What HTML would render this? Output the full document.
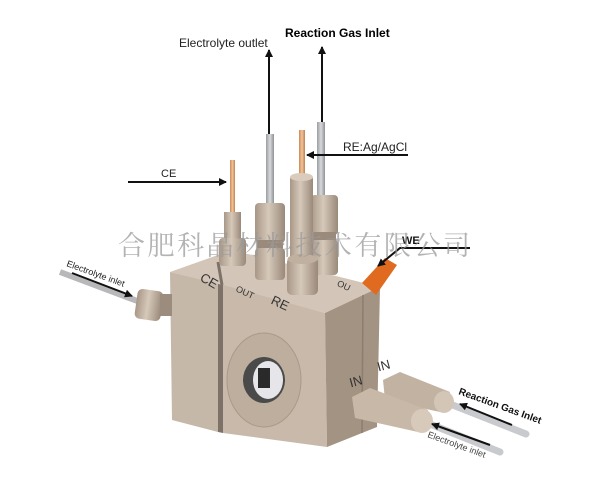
<!DOCTYPE html>
<html><head><meta charset="utf-8"><style>
html,body{margin:0;padding:0;background:#fff;}
svg{display:block;font-family:"Liberation Sans",sans-serif;}
</style></head><body>
<svg width="600" height="500" viewBox="0 0 600 500" xmlns="http://www.w3.org/2000/svg">
<defs>
<marker id="ah" markerWidth="8" markerHeight="8" refX="7" refY="4" orient="auto" markerUnits="userSpaceOnUse"><path d="M0,0 L8,4 L0,8 z" fill="#111"/></marker>
<linearGradient id="cyl" x1="0" x2="1"><stop offset="0" stop-color="#a89787"/><stop offset="0.45" stop-color="#d6c9ba"/><stop offset="1" stop-color="#9a897a"/></linearGradient>
<linearGradient id="gray" x1="0" x2="1"><stop offset="0" stop-color="#9a9ca0"/><stop offset="0.5" stop-color="#d8d9dc"/><stop offset="1" stop-color="#8f9195"/></linearGradient>
<linearGradient id="cu" x1="0" x2="1"><stop offset="0" stop-color="#c98a55"/><stop offset="0.5" stop-color="#f2c49a"/><stop offset="1" stop-color="#c08050"/></linearGradient>
</defs>

<polygon points="170,272 325,313 380,287 232,250" fill="#d3c6b8"/>
<polygon points="170,272 218,284 218,432 172,420" fill="#c6b8a9"/>
<polygon points="218,284 223,285 223,433 218,432" fill="#7d7268"/>
<polygon points="223,285 325,313 327,447 223,433" fill="#c8b9aa"/>
<polygon points="325,313 380,287 377,427 327,447" fill="#a39383"/>
<line x1="363" y1="295" x2="362" y2="433" stroke="#8b7d70" stroke-width="1.5"/>
<line x1="218" y1="262" x2="222" y2="285" stroke="#7d7268" stroke-width="3"/>

<ellipse cx="264" cy="380" rx="37" ry="47" fill="#bdae9e" stroke="#a89988"/>
<ellipse cx="264" cy="380" rx="21" ry="23" fill="#4a4a4a"/>
<ellipse cx="268" cy="380" rx="15" ry="19" fill="#e6e6ea"/>
<rect x="258" y="368" width="12" height="20" fill="#2a2a2a"/>

<text x="200" y="283" font-size="13" fill="#333" transform="rotate(30 205 280)">CE</text>
<text x="236" y="293" font-size="9" fill="#333" transform="rotate(25 240 290)">OUT</text>
<text x="272" y="305" font-size="13" fill="#333" transform="rotate(25 275 300)">RE</text>
<text x="337" y="287" font-size="9" fill="#333" transform="rotate(25 340 285)">OU</text>
<text x="349" y="386" font-size="13" fill="#333" transform="rotate(-15 355 380)">IN</text>
<text x="377" y="370" font-size="13" fill="#333" transform="rotate(-15 383 365)">IN</text>

<polygon points="362,283 385,258 397,265 376,295" fill="#e06a20"/>

<rect x="230" y="160" width="5" height="60" fill="url(#cu)"/>
<rect x="224" y="212" width="17" height="30" fill="url(#cyl)"/>
<rect x="219" y="238" width="27" height="28" rx="4" fill="url(#cyl)"/>
<rect x="266" y="134" width="8" height="75" fill="url(#gray)"/>
<rect x="255" y="203" width="30" height="40" rx="4" fill="url(#cyl)"/>
<rect x="257" y="240" width="26" height="10" fill="#9a8a7b"/>
<rect x="255" y="248" width="30" height="32" rx="4" fill="url(#cyl)"/>
<rect x="317" y="122" width="8" height="78" fill="url(#gray)"/>
<rect x="311" y="195" width="27" height="40" rx="4" fill="url(#cyl)"/>
<rect x="313" y="232" width="23" height="10" fill="#9a8a7b"/>
<rect x="311" y="240" width="27" height="35" rx="4" fill="url(#cyl)"/>
<rect x="299" y="130" width="6" height="50" fill="url(#cu)"/>
<rect x="290" y="176" width="23" height="85" rx="3" fill="url(#cyl)"/>
<ellipse cx="301.5" cy="177" rx="11.5" ry="4" fill="#d9ccbd"/>
<rect x="287" y="257" width="31" height="38" rx="5" fill="url(#cyl)"/>
<ellipse cx="302.5" cy="259" rx="15" ry="5" fill="#bfb0a0"/>

<line x1="60" y1="272" x2="140" y2="302" stroke="#b8b8bb" stroke-width="6"/>
<rect x="136" y="290" width="26" height="30" rx="5" fill="url(#cyl)" transform="rotate(8 149 305)"/>
<rect x="160" y="294" width="12" height="22" fill="#9c8c7d"/>

<line x1="440" y1="400" x2="526" y2="434" stroke="#c9cacd" stroke-width="7" stroke-linecap="round"/>
<polygon points="383,380 400,372 450,392 440,412 385,400" fill="#c2b2a2"/>
<ellipse cx="444" cy="402" rx="10" ry="11" fill="#d4c6b7"/>
<line x1="420" y1="420" x2="500" y2="452" stroke="#c9cacd" stroke-width="7" stroke-linecap="round"/>
<polygon points="352,397 370,388 428,410 418,432 355,418" fill="#c8b8a8"/>
<ellipse cx="422" cy="421" rx="11" ry="12" fill="#d8cabb"/>

<line x1="269" y1="134" x2="269" y2="50" stroke="#111" stroke-width="2" marker-end="url(#ah)"/>
<line x1="322" y1="122" x2="322" y2="47" stroke="#111" stroke-width="2" marker-end="url(#ah)"/>
<line x1="128" y1="182" x2="226" y2="182" stroke="#111" stroke-width="2" marker-end="url(#ah)"/>
<line x1="408" y1="155" x2="307" y2="155" stroke="#111" stroke-width="2" marker-end="url(#ah)"/>
<polyline points="470,248 400,248 378,266" fill="none" stroke="#111" stroke-width="2" marker-end="url(#ah)"/>
<line x1="72" y1="273" x2="132" y2="296" stroke="#111" stroke-width="2" marker-end="url(#ah)"/>
<line x1="512" y1="425" x2="460" y2="404" stroke="#111" stroke-width="2" marker-end="url(#ah)"/>
<line x1="490" y1="445" x2="432" y2="424" stroke="#111" stroke-width="2" marker-end="url(#ah)"/>

<text x="179" y="47" font-size="12" fill="#222">Electrolyte outlet</text>
<text x="285" y="37" font-size="12" font-weight="bold" fill="#000">Reaction Gas Inlet</text>
<text x="161" y="177" font-size="11" fill="#222">CE</text>
<text x="343" y="151" font-size="12" fill="#222">RE:Ag/AgCl</text>
<text x="402" y="244" font-size="11" font-weight="bold" fill="#111">WE</text>
<text x="66" y="266" font-size="9" fill="#222" transform="rotate(20 66 266)">Electrolyte inlet</text>
<text x="458" y="394" font-size="10" font-weight="bold" fill="#111" transform="rotate(20 458 394)">Reaction Gas Inlet</text>
<text x="427" y="437" font-size="9" fill="#444" transform="rotate(20 427 437)">Electrolyte inlet</text>

<text x="118" y="255" font-size="27" fill="#9a9a9a" fill-opacity="0.75" font-family="'Noto Serif CJK SC','Liberation Serif',serif" textLength="352">合肥科晶材料技术有限公司</text>
</svg>
</body></html>
